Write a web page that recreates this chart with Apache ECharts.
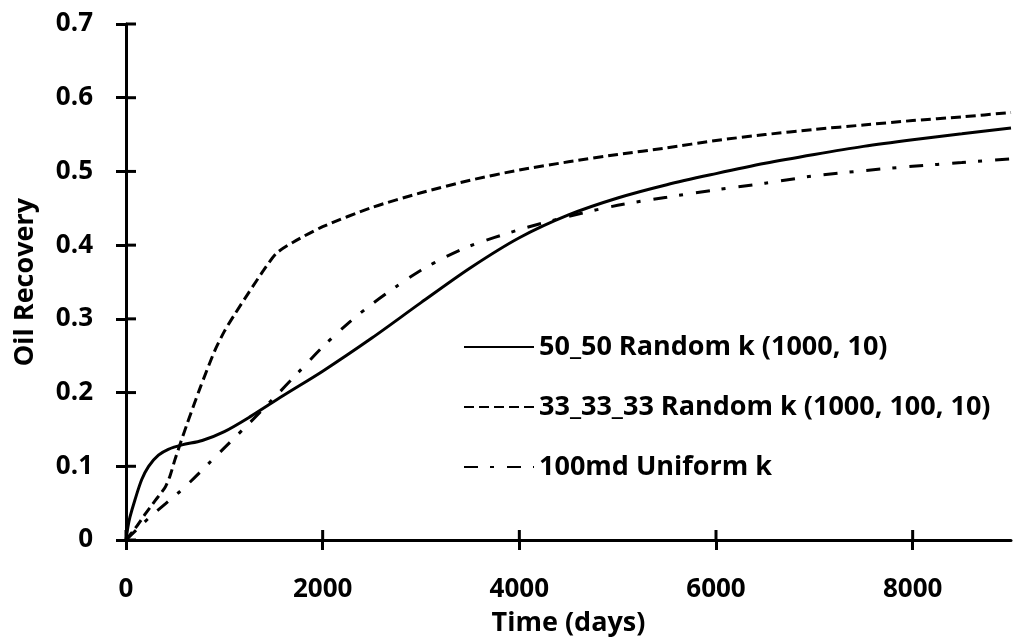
<!DOCTYPE html>
<html>
<head>
<meta charset="utf-8">
<script src="https://cdn.jsdelivr.net/npm/echarts@6/dist/echarts.min.js"></script>
<style>
  html, body { margin: 0; padding: 0; background: #fff; }
  #chart { width: 1013px; height: 642px; }
</style>
</head>
<body>
<div id="chart"></div>
<script>
// Oil recovery versus time for three permeability layouts
const seriesNames = [
  '50_50 Random k (1000, 10)',
  '33_33_33 Random k (1000, 100, 10)',
  '100md Uniform k'
];

// 50_50 random permeability (1000 md / 10 md)
const timeRandom2 = [0, 20, 40, 90, 160, 230, 330, 430, 570, 775, 1000, 1260, 1600, 2000, 2500, 3000, 3500, 4000, 4500, 5000, 5500, 6000, 6500, 7000, 7500, 8000, 8500, 9000];
const recRandom2 = [0, 0.018, 0.031, 0.054, 0.082, 0.100, 0.115, 0.123, 0.129, 0.135, 0.147, 0.167, 0.196, 0.229, 0.274, 0.322, 0.369, 0.410, 0.441, 0.464, 0.482, 0.497, 0.511, 0.523, 0.534, 0.543, 0.551, 0.559];

// 33_33_33 random permeability (1000 / 100 / 10 md)
const timeRandom3 = [0, 100, 200, 300, 400, 450, 500, 550, 620, 750, 900, 1000, 1100, 1250, 1400, 1530, 1700, 2000, 2500, 3000, 3500, 4000, 4500, 5000, 5500, 6000, 6500, 7000, 7500, 8000, 8500, 9000];
const recRandom3 = [0, 0.017, 0.036, 0.054, 0.072, 0.088, 0.110, 0.130, 0.157, 0.205, 0.256, 0.283, 0.305, 0.336, 0.366, 0.389, 0.404, 0.425, 0.451, 0.471, 0.488, 0.502, 0.513, 0.523, 0.532, 0.542, 0.550, 0.557, 0.563, 0.569, 0.574, 0.580];

// 100 md uniform permeability
const timeUniform = [0, 100, 250, 400, 550, 700, 850, 1000, 1250, 1500, 1750, 2000, 2250, 2500, 2750, 3000, 3250, 3500, 4000, 4500, 5000, 5500, 6000, 6500, 7000, 7500, 8000, 8500, 9000];
const recUniform = [0, 0.013, 0.032, 0.049, 0.066, 0.085, 0.105, 0.125, 0.158, 0.192, 0.227, 0.262, 0.293, 0.320, 0.344, 0.366, 0.384, 0.399, 0.421, 0.439, 0.454, 0.465, 0.475, 0.484, 0.494, 0.501, 0.507, 0.512, 0.517];

// Axis tick positions
const xTicks = [0, 2000, 4000, 6000, 8000];
const yTicks = [0, 0.1, 0.2, 0.3, 0.4, 0.5, 0.6, 0.7];

const zip = (xs, ys) => xs.map((x, i) => [x, ys[i]]);

const FONT = '"Open Sans", "Noto Sans", sans-serif';
const INK = '#000';
const TICK_LEN = 10;
const tickStyle = { color: INK, width: 3 };

const chart = echarts.init(document.getElementById('chart'), null, { renderer: 'canvas' });

chart.setOption({
  animation: false,
  backgroundColor: '#fff',
  grid: { left: 126, right: 2, top: 24, bottom: 99, containLabel: false },
  xAxis: {
    type: 'value', min: 0, max: 9000, interval: 2000,
    name: 'Time (days)', nameLocation: 'middle', nameGap: 70,
    nameTextStyle: { color: INK, fontFamily: FONT, fontWeight: 'bold', fontSize: 27 },
    axisLine: { show: true, onZero: false, lineStyle: { color: INK, width: 3 } },
    axisTick: { show: true, length: TICK_LEN, customValues: xTicks, lineStyle: tickStyle },
    axisLabel: {
      customValues: xTicks, margin: 37, color: INK,
      fontFamily: FONT, fontWeight: 'bold', fontSize: 26,
      formatter: v => String(v)
    },
    splitLine: { show: false }
  },
  yAxis: {
    type: 'value', min: 0, max: 0.7, interval: 0.1,
    name: 'Oil Recovery', nameLocation: 'middle', nameRotate: 90, nameGap: 87,
    nameTextStyle: { color: INK, fontFamily: FONT, fontWeight: 'bold', fontSize: 27 },
    axisLine: { show: true, onZero: false, lineStyle: { color: INK, width: 3 } },
    axisTick: { show: true, length: TICK_LEN, customValues: yTicks, lineStyle: tickStyle },
    axisLabel: {
      customValues: yTicks, margin: 33, color: INK,
      fontFamily: FONT, fontWeight: 'bold', fontSize: 26,
      formatter: v => String(Math.round(v * 10) / 10)
    },
    splitLine: { show: false }
  },
  legend: {
    orient: 'vertical',
    left: 463, top: 332, padding: 0,
    itemWidth: 70, itemHeight: 30, itemGap: 30,
    itemStyle: { opacity: 0 },
    textStyle: { color: INK, fontFamily: FONT, fontWeight: 'bold', fontSize: 27, lineHeight: 30 },
    data: seriesNames
  },
  series: [
    {
      name: seriesNames[0], type: 'line',
      data: zip(timeRandom2, recRandom2), showSymbol: false, symbol: 'none',
      smooth: 0.3,
      lineStyle: { color: INK, width: 3, type: 'solid' }, itemStyle: { color: INK }
    },
    {
      name: seriesNames[1], type: 'line',
      data: zip(timeRandom3, recRandom3), showSymbol: false, symbol: 'none',
      smooth: 0.25,
      lineStyle: { color: INK, width: 3, type: [10, 5] }, itemStyle: { color: INK }
    },
    {
      name: seriesNames[2], type: 'line',
      data: zip(timeUniform, recUniform), showSymbol: false, symbol: 'none',
      smooth: 0.3,
      lineStyle: { color: INK, width: 3, type: [14, 12, 4, 13] }, itemStyle: { color: INK }
    }
  ]
});

// Inward half of each tick mark, placed with the chart's own axis scales,
// so that every tick straddles its axis line.
const innerTicks = [];
xTicks.forEach(v => {
  const p = chart.convertToPixel({ gridIndex: 0 }, [v, 0]);
  innerTicks.push({
    type: 'line', z: 10, silent: true,
    shape: { x1: p[0], y1: p[1], x2: p[0], y2: p[1] - TICK_LEN },
    style: { stroke: INK, lineWidth: 3 }
  });
});
yTicks.forEach(v => {
  const p = chart.convertToPixel({ gridIndex: 0 }, [0, v]);
  innerTicks.push({
    type: 'line', z: 10, silent: true,
    shape: { x1: p[0], y1: p[1], x2: p[0] + TICK_LEN, y2: p[1] },
    style: { stroke: INK, lineWidth: 3 }
  });
});
chart.setOption({ graphic: innerTicks });
</script>
</body>
</html>
